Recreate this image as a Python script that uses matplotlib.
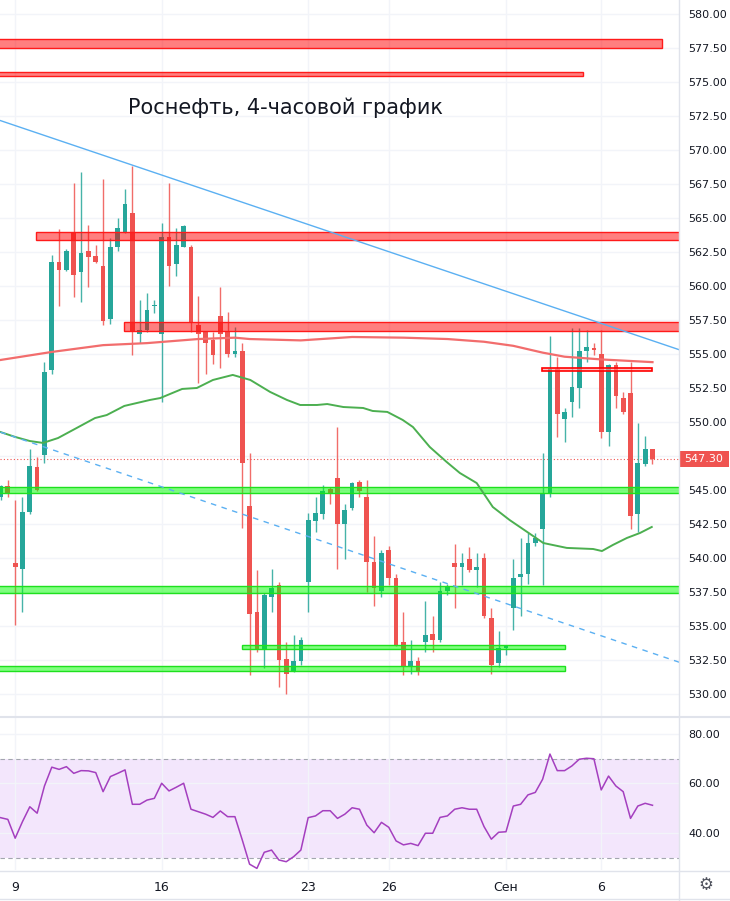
import matplotlib
matplotlib.use('Agg')
import matplotlib.pyplot as plt
from matplotlib.patches import Rectangle
from matplotlib.lines import Line2D
import numpy as np

###############################################################################
## Data (4h candles)
###############################################################################

opens = [544.5, 545.3, 539.6, 539.2, 543.4, 546.7, 547.6, 553.8, 561.8, 561.2,
         564.0, 561.0, 562.6, 562.2, 561.5, 557.6, 562.9, 564.0, 565.4, 556.5,
         556.8, 558.5, 556.5, 563.6, 561.6, 562.9, 562.9, 557.1, 556.6, 556.0,
         557.8, 556.6, 555.0, 555.2, 543.8, 536.0, 533.2, 537.1, 538.0, 532.6,
         531.7, 532.4, 538.2, 542.7, 543.2, 545.1, 545.9, 542.5, 543.7, 545.6,
         544.5, 539.7, 537.6, 540.6, 538.5, 533.8, 532.0, 532.4, 533.8, 534.4,
         534.0, 537.6, 539.6, 539.3, 539.9, 539.1, 540.0, 535.6, 532.3, 533.4,
         536.3, 538.6, 538.8, 541.1, 542.1, 544.7, 553.9, 550.2, 551.5, 552.5,
         555.2, 555.4, 555.0, 549.3, 554.2, 551.8, 552.1, 543.2, 546.9, 548.0]
highs = [545.4, 545.7, 544.3, 544.5, 548.0, 547.4, 554.4, 562.3, 564.2, 562.7,
         567.6, 568.4, 564.5, 563.0, 567.9, 563.5, 565.0, 567.1, 568.8, 559.0,
         559.5, 559.0, 564.6, 567.6, 564.3, 564.5, 563.0, 559.3, 556.6, 556.6,
         559.9, 558.1, 557.0, 555.8, 547.7, 539.1, 537.4, 539.2, 538.2, 533.8,
         534.3, 534.2, 543.3, 544.5, 545.4, 545.2, 549.6, 544.0, 545.6, 545.7,
         545.7, 541.6, 540.6, 540.9, 538.8, 536.0, 534.0, 532.7, 536.8, 535.7,
         538.2, 538.1, 541.0, 540.4, 540.8, 540.4, 540.4, 536.3, 534.6, 533.5,
         539.9, 541.5, 541.8, 541.8, 547.7, 556.3, 554.8, 551.0, 556.9, 556.9,
         556.8, 555.8, 556.8, 554.3, 554.4, 552.2, 554.4, 549.9, 549.0, 548.0]
lows = [544.3, 544.5, 535.1, 536.0, 543.2, 544.9, 547.0, 553.5, 558.5, 561.1,
        559.2, 558.8, 559.9, 561.7, 557.1, 557.2, 562.6, 563.9, 554.9, 555.8,
        556.6, 558.0, 551.5, 560.0, 560.7, 562.9, 556.6, 552.9, 553.5, 554.3,
        554.0, 554.8, 554.8, 542.2, 531.4, 533.1, 531.9, 536.0, 530.5, 530.0,
        531.6, 532.1, 536.0, 541.9, 542.9, 544.0, 539.2, 539.9, 543.5, 544.5,
        537.5, 536.5, 537.1, 538.0, 533.5, 531.4, 531.5, 531.4, 533.1, 533.1,
        533.8, 537.3, 536.3, 538.0, 539.0, 537.9, 535.6, 531.5, 532.0, 532.9,
        534.7, 535.7, 538.1, 540.9, 538.0, 544.5, 548.9, 548.5, 550.4, 551.0,
        554.4, 554.9, 548.8, 548.2, 551.0, 550.6, 542.1, 541.9, 546.8, 546.9]
closes = [545.3, 544.8, 539.3, 543.4, 546.8, 545.0, 553.7, 561.8, 561.2, 562.6,
          560.8, 562.4, 562.1, 561.8, 557.4, 562.9, 564.3, 566.0, 556.6, 556.8,
          558.2, 558.6, 563.6, 561.5, 563.0, 564.4, 557.3, 556.5, 555.8, 554.9,
          556.5, 555.0, 555.2, 547.0, 535.9, 533.2, 537.3, 537.8, 532.5, 531.5,
          532.4, 534.0, 542.8, 543.3, 544.9, 544.8, 542.5, 543.5, 545.5, 544.9,
          539.7, 537.8, 540.4, 538.5, 533.6, 532.0, 532.4, 531.6, 534.3, 534.0,
          537.6, 537.9, 539.3, 539.6, 539.1, 539.3, 535.7, 532.1, 533.4, 533.5,
          538.5, 538.8, 541.1, 541.5, 544.8, 553.9, 550.6, 550.7, 552.6, 555.2,
          555.5, 555.3, 549.3, 554.2, 551.9, 550.7, 543.1, 547.0, 548.0, 547.3]

rsi = [46.2, 45.5, 37.9, 44.6, 50.6, 48.0, 59.0, 66.6, 65.7, 66.8,
       64.1, 65.2, 65.1, 64.4, 56.7, 62.8, 64.1, 65.5, 51.6, 51.6,
       53.3, 54.0, 60.1, 57.0, 58.5, 60.1, 49.6, 48.6, 47.6, 46.3,
       48.9, 46.6, 46.6, 37.2, 27.4, 25.7, 32.2, 33.1, 29.1, 28.4,
       30.4, 33.1, 46.2, 46.9, 49.0, 49.0, 45.9, 47.6, 50.2, 49.6,
       43.2, 40.1, 44.3, 42.3, 36.8, 35.2, 35.8, 34.9, 39.9, 39.9,
       46.3, 46.9, 49.6, 50.2, 49.6, 49.6, 42.6, 37.5, 40.3, 40.5,
       50.9, 51.6, 55.4, 56.4, 61.7, 71.9, 65.2, 65.2, 67.1, 69.8,
       70.2, 70.0, 57.4, 63.0, 59.0, 56.7, 45.9, 50.9, 52.0, 51.2]

# moving averages (vertices)
ma_slow_x = [0, 7, 14, 20, 27, 32, 34, 41, 48, 55, 61, 66, 70, 74, 77, 82, 89]
ma_slow_y = [554.56, 555.15, 555.65, 555.8, 556.1, 556.2, 556.1, 556.0, 556.25,
             556.2, 556.1, 555.9, 555.6, 555.1, 554.8, 554.6, 554.4]
ma_fast_x = [0, 2.0, 4.0, 5.8, 7.85, 10.4, 12.9, 14.5, 16.9, 20.4, 21.8, 24.8,
             26.8, 29.0, 31.7, 34.1, 36.8, 39.1, 40.9, 43.2, 44.6, 46.8, 49.5,
             50.8, 52.8, 54.9, 56.3, 58.6, 60.9, 62.7, 65.0, 67.2, 69.5, 71.9,
             74.1, 77.3, 80.9, 82.1, 83.6, 85.5, 87.3, 88.9]
ma_fast_y = [549.26, 548.9, 548.6, 548.46, 548.82, 549.56, 550.29, 550.51,
             551.18, 551.62, 551.76, 552.43, 552.5, 553.09, 553.46, 553.09,
             552.21, 551.62, 551.25, 551.25, 551.32, 551.1, 551.03, 550.81,
             550.74, 550.15, 549.63, 548.16, 547.06, 546.25, 545.51, 543.75,
             542.79, 541.91, 541.1, 540.74, 540.66, 540.51, 540.96, 541.47,
             541.84, 542.28]

# drawings: (x_start, x_end, price_low, price_high)
red_zones = [(-1, 90.3, 577.5, 578.15),
             (-1, 79.5, 575.45, 575.75),
             (4.85, 95, 563.4, 564.0),
             (16.85, 95, 556.7, 557.35)]
red_level = (73.9, 88.95, 553.75, 553.95)
green_zones = [(-1, 95, 544.8, 545.2),
               (-1, 95, 537.4, 537.95),
               (32.9, 77.1, 533.3, 533.6),
               (-1, 77.1, 531.7, 532.05)]
trend_solid = ([0, 93], [572.16, 555.25])
trend_dashed = ([0, 93], [549.25, 532.27])

last_price = 547.30
date_pos = [2, 22, 42, 53, 69, 82]
date_labels = ['9', '16', '23', '26', 'Сен', '6']

###############################################################################
## Figure
###############################################################################

W, H = 730, 901
UP, DN = '#26a69a', '#ef5350'
GRID = '#f2f4f9'
TXT = '#131722'
plt.rcParams['font.family'] = ['DejaVu Sans']

fig = plt.figure(figsize=(W / 100, H / 100), dpi=100)
ax = fig.add_axes([0, 1 - 716 / H, 678.5 / W, 716 / H])
ax2 = fig.add_axes([0, 1 - 870 / H, 678.5 / W, 152 / H])

xlim = (-0.07, 92.55)
n = len(closes)
idx = np.arange(n)

# candles
for i in range(n):
    up = closes[i] >= opens[i]
    col = UP if up else DN
    ax.vlines(i, lows[i], highs[i], color=col, lw=1, alpha=0.85, zorder=3)
    lo, hi = min(opens[i], closes[i]), max(opens[i], closes[i])
    ax.bar(i, max(hi - lo, 0.12), bottom=lo, width=0.64, color=col, lw=0, zorder=4)

# zones
for x0, x1, y0, y1 in red_zones:
    ax.add_patch(Rectangle((x0, y0), x1 - x0, y1 - y0, facecolor=(1, 0, 0, 0.5),
                           edgecolor='#ff1a1a', lw=1, zorder=5))
x0, x1, y0, y1 = red_level
ax.add_patch(Rectangle((x0, y0), x1 - x0, y1 - y0, facecolor=(1, 0.6, 0.6, 0.6),
                       edgecolor='#ff0000', lw=1.2, zorder=5))
for x0, x1, y0, y1 in green_zones:
    ax.add_patch(Rectangle((x0, y0), x1 - x0, y1 - y0, facecolor=(0, 1, 0, 0.5),
                           edgecolor='#1ee01e', lw=1, zorder=5))

# MAs and trend lines
ax.plot(ma_slow_x, ma_slow_y, color='#f26d6d', lw=1.6, zorder=6)
ax.plot(ma_fast_x, ma_fast_y, color='#4caf50', lw=1.4, zorder=6)
ax.plot(trend_solid[0], trend_solid[1], color='#5bb0f2', lw=1, zorder=6)
ax.plot(trend_dashed[0], trend_dashed[1], color='#5bb0f2', lw=1, ls=(0, (4, 4)), zorder=6)
ax.axhline(last_price, color=DN, lw=0.8, ls=(0, (1, 2)), zorder=2)

ax.set_xlim(*xlim)
ax.set_ylim(528.38, 581.03)
yt = np.arange(530, 580.1, 2.5)
ax.set_yticks(yt)
ax.set_yticklabels(['' if abs(v - 547.5) < 0.01 else '%.2f' % v for v in yt])
ax.yaxis.tick_right()
ax.set_xticks(date_pos)
ax.set_xticklabels([])
ax.tick_params(length=0, labelsize=8, labelcolor=TXT, pad=7)
ax.grid(True, color=GRID, lw=1, zorder=0)
for s in ax.spines.values():
    s.set_visible(False)

# last price tag
ax.add_patch(Rectangle((1.0, last_price - 0.6), 50 / 678.5, 1.2, facecolor=DN,
                       edgecolor='none', transform=ax.get_yaxis_transform(),
                       clip_on=False, zorder=10))
ax.text(704 / 678.5, last_price, '%.2f' % last_price, color='white', fontsize=8,
        ha='center', va='center', transform=ax.get_yaxis_transform(), zorder=11)

fig.text(285 / W, 1 - 108 / H, 'Роснефть, 4-часовой график', fontsize=15,
         color=TXT, ha='center', va='center')

# RSI pane
ax2.axhspan(30, 70, color='#f3e6fc', lw=0, zorder=0)
ax2.axhline(70, color='#a3a6af', lw=0.8, ls=(0, (4, 3)), zorder=1)
ax2.axhline(30, color='#a3a6af', lw=0.8, ls=(0, (4, 3)), zorder=1)
ax2.plot(idx, rsi, color='#a43fbf', lw=1.1, zorder=3)
ax2.set_xlim(*xlim)
ax2.set_ylim(25.05, 86.46)
ax2.set_yticks([40, 60, 80])
ax2.set_yticklabels(['40.00', '60.00', '80.00'])
ax2.yaxis.tick_right()
ax2.set_xticks(date_pos)
ax2.set_xticklabels(date_labels)
ax2.tick_params(length=0, labelsize=8, labelcolor=TXT, pad=7)
ax2.tick_params(axis='x', labelsize=9, pad=8)
ax2.grid(True, color=GRID, lw=1, zorder=0)
for s in ax2.spines.values():
    s.set_visible(False)

# pane separators
sep = '#e0e3eb'
fig.add_artist(Line2D([0, 1], [1 - 717 / H] * 2, color=sep, lw=1.5))
fig.add_artist(Line2D([0, 1], [1 - 870.5 / H] * 2, color=sep, lw=1))
fig.add_artist(Line2D([0, 1], [1 - 899 / H] * 2, color=sep, lw=1))
fig.add_artist(Line2D([678.5 / W] * 2, [0, 1], color=sep, lw=1))
fig.text(706 / W, 1 - 885 / H, '⚙', fontsize=12, color='#50535e',
         ha='center', va='center')

fig.savefig('out.png', dpi=100)
